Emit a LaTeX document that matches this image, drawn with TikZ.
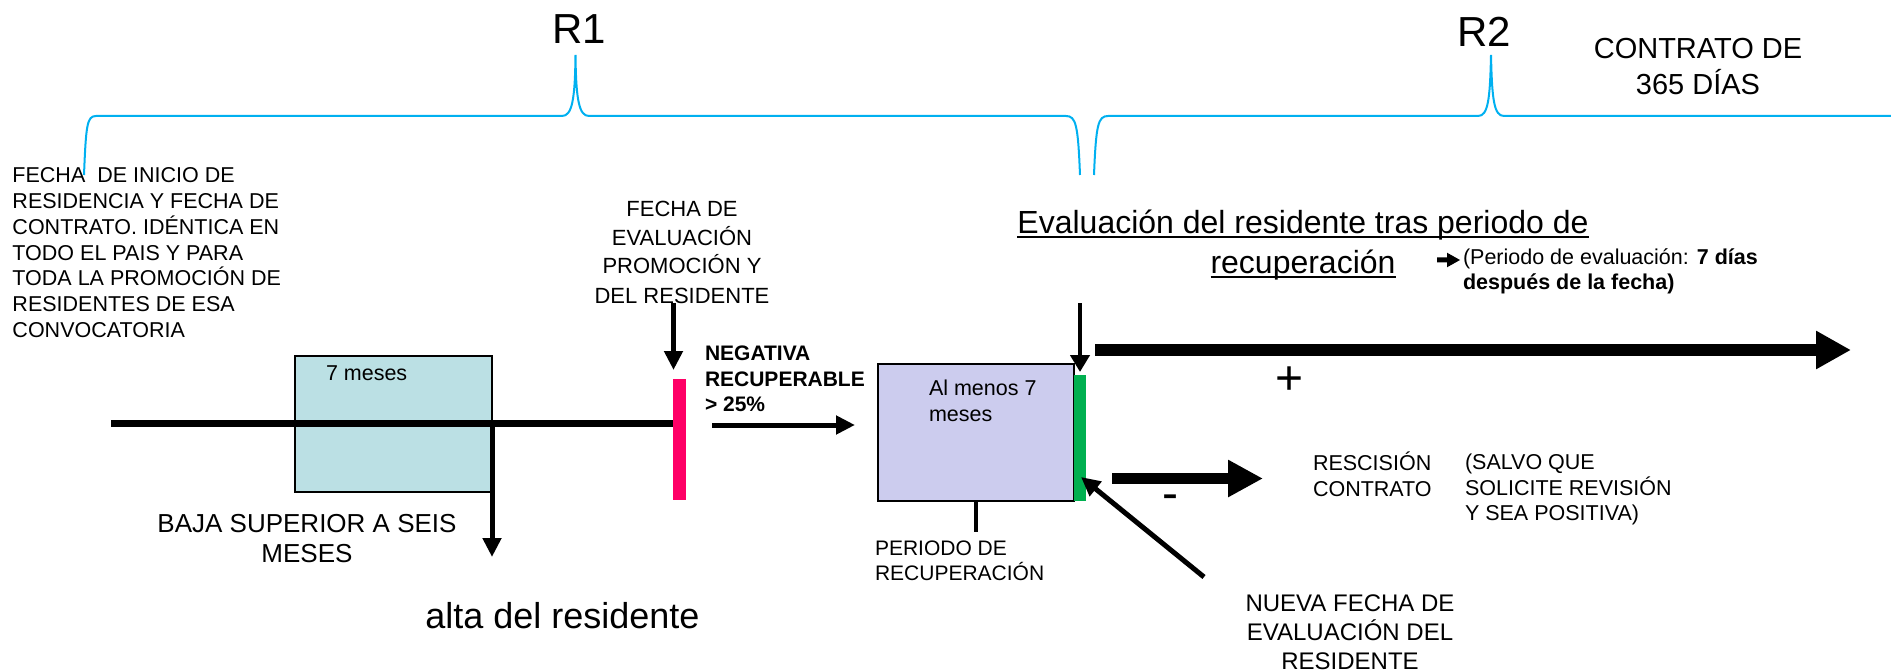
\documentclass[tikz,border=0pt]{standalone}
\usepackage{fontspec}
\setmainfont{Liberation Sans}
\usetikzlibrary{arrows.meta}
\definecolor{bracecol}{RGB}{0,176,240}
\definecolor{tealfill}{RGB}{187,224,228}
\definecolor{lavfill}{RGB}{204,204,238}
\definecolor{pinkcol}{RGB}{255,0,102}
\definecolor{greencol}{RGB}{0,176,80}
\newcommand{\fs}[2]{\fontsize{#1}{#2}\selectfont}
\newcommand{\tstrut}{\rule{0pt}{1em}}
\begin{document}
\begin{tikzpicture}[x=1pt,y=-1pt,
  txt/.style={inner sep=0pt,outer sep=0pt},
  brace/.style={draw=bracecol,line width=2pt},
  box/.style={draw=black,line width=2.5pt,inner sep=0pt,outer sep=0pt},
  bar/.style={inner sep=0pt,outer sep=0pt},
  thinarrow/.style={line width=5pt,-{Triangle[length=19pt,width=18pt]}},
  fatarrow/.style={line width=12pt,-{Triangle[length=35pt,width=36pt]}},
]
\useasboundingbox (0,0) rectangle (1891,671);

% braces
\draw[brace] (84,175) .. controls (86,125) and (87,116) .. (96,116) -- (562,116)
  .. controls (572,116) and (575,100) .. (575.5,55)
  .. controls (576,100) and (579,116) .. (589,116) -- (1066,116)
  .. controls (1076,116) and (1078,125) .. (1080,175);
\draw[brace] (1094,175) .. controls (1096,125) and (1098,116) .. (1108,116) -- (1478,116)
  .. controls (1488,116) and (1490,100) .. (1491,55)
  .. controls (1492,100) and (1494,116) .. (1504,116) -- (1891,116);

% top labels
\node[txt,anchor=base,font=\fs{42}{50}] (r1) at (579.5,44) {R1};
\node[txt,anchor=base,font=\fs{42}{50}] (r2) at (1484.5,47) {R2};
\node[txt,anchor=north,align=center,font=\fs{29}{36.5}] (contrato) at (1698,29.4) {\tstrut CONTRATO DE\\365 DÍAS};

% left text
\node[txt,anchor=north west,align=left,font=\fs{21.5}{25.8}] (inicio) at (12.5,161.2)
  {\tstrut FECHA\ \ DE INICIO DE\\RESIDENCIA Y FECHA DE\\CONTRATO. IDÉNTICA EN\\TODO EL PAIS Y PARA\\TODA LA PROMOCIÓN DE\\RESIDENTES DE ESA\\CONVOCATORIA};

% first box and main line
\node[box,fill=tealfill,minimum width=197pt,minimum height=136pt] (box1) at (393.5,424) {};
\node[txt,anchor=base west,font=\fs{21.5}{25.8}] (siete) at (326,380.7) {7 meses};
\node[bar,fill=pinkcol,minimum width=13pt,minimum height=121pt] (pink) at (679.5,439.5) {};
\coordinate (mainL) at (111,423.5);
\draw[line width=7.5pt] (mainL) -- (mainL -| pink.west);
\coordinate (bajaEnd) at (494,557);
\draw[thinarrow] (box1.east) -- (box1.east |- bajaEnd);

\node[txt,anchor=north,align=center,font=\fs{26}{30}] (baja) at (307,506) {\tstrut BAJA SUPERIOR A SEIS\\MESES};
\node[txt,anchor=base,font=\fs{36}{40}] (alta) at (562.5,628) {alta del residente};

% evaluation date
\node[txt,anchor=north,align=center,font=\fs{22}{29}] (fechaeval) at (682,194)
  {\tstrut FECHA DE\\EVALUACIÓN\\PROMOCIÓN Y\\DEL RESIDENTE};
\coordinate (feA) at (673.5,303);
\draw[thinarrow] (feA) -- ([yshift=9pt]feA |- pink.north);

\node[txt,anchor=north west,align=left,font=\fs{21}{25.5}\bfseries] (neg) at (705,339.6)
  {\tstrut NEGATIVA\\RECUPERABLE\\> 25\%};
\coordinate (negA) at (712,425);
\coordinate (negB) at (855,425);
\draw[thinarrow] (negA) -- (negB);

% recovery box
\node[box,fill=lavfill,minimum width=196pt,minimum height=137pt] (box2) at (976,432.5) {};
\node[txt,anchor=north west,align=left,font=\fs{21.5}{26}] (almenos) at (929,374.2) {\tstrut Al menos 7\\meses};
\node[bar,fill=greencol,minimum width=12pt,minimum height=126pt] (green) at (1080,438) {};
\coordinate (gA) at (1080,303);
\draw[line width=4.5pt,-{Triangle[length=17pt,width=19pt]}] (gA) -- ([yshift=3pt]green.north);
\draw[line width=4.5pt] (box2.south) -- ++(0,31) coordinate (perTop);
\node[txt,anchor=north west,align=left,font=\fs{21}{25}] (periodo) at (875,534.6) {\tstrut PERIODO DE\\RECUPERACIÓN};

% evaluation title
\node[txt,anchor=base,font=\fs{32}{40}] (ev1) at (1303,233.5) {Evaluación del residente tras periodo de};
\node[txt,anchor=base,font=\fs{32}{40}] (ev2) at (1303,273.5) {recuperación};
\draw[line width=1.8pt] ([yshift=-3.6pt]ev1.base west) -- ([yshift=-3.6pt]ev1.base east);
\draw[line width=1.8pt] ([yshift=-3.6pt]ev2.base west) -- ([yshift=-3.6pt]ev2.base east);
\fill (1437,257.5) -- (1447,257.5) -- (1447,252.7) -- (1460,260) -- (1447,267.3) -- (1447,262.5) -- (1437,262.5) -- cycle;
\node[txt,anchor=north west,align=left,font=\fs{21.5}{25}] (pereval) at (1463,243.2)
  {\tstrut (Periodo de evaluación: \textbf{7 días}\\\textbf{después de la fecha)}};

% outcomes
\coordinate (plusA) at (1095,350);
\coordinate (plusB) at (1851,350);
\draw[fatarrow] (plusA) -- (plusB);
\node[txt,anchor=base,font=\fs{48}{50}] (plus) at (1290,394) {+};

\coordinate (minA) at (1112,478.5);
\coordinate (minB) at (1263,478.5);
\draw[line width=11pt,-{Triangle[length=35pt,width=35pt]}] (minA) -- (minB);
\node[txt,anchor=base,font=\fs{48}{50}] (minus) at (1170,509.5) {-};

\node[txt,anchor=north west,align=left,font=\fs{21.5}{26}] (resc) at (1313,449.2) {\tstrut RESCISIÓN\\CONTRATO};
\node[txt,anchor=north west,align=left,font=\fs{21.5}{25.5}] (salvo) at (1465,448.2)
  {\tstrut (SALVO QUE\\SOLICITE REVISIÓN\\Y SEA POSITIVA)};

\coordinate (diagA) at (1204,577);
\coordinate (diagB) at (1081,477);
\draw[thinarrow] (diagA) -- (diagB);
\node[txt,anchor=north,align=center,font=\fs{24}{29}] (nueva) at (1350,587.6)
  {\tstrut NUEVA FECHA DE\\EVALUACIÓN DEL\\RESIDENTE};
\end{tikzpicture}
\end{document}
